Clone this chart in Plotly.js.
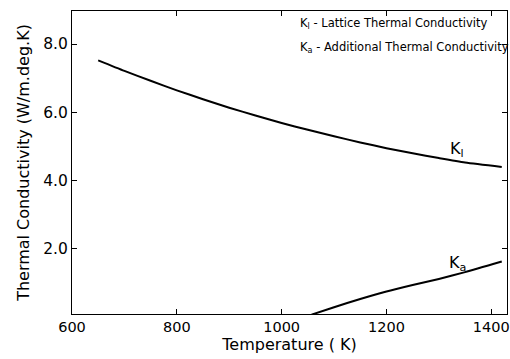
<!DOCTYPE html>
<html>
<head>
<meta charset="utf-8">
<script src="https://cdn.plot.ly/plotly-3.0.1.min.js"></script>
<style>html,body{margin:0;padding:0;background:#fff;}#chart{width:510px;height:359px;}</style>
</head>
<body>
<div id="chart"></div>
<script>
// Lattice thermal conductivity K_l
const klTemp = [650, 700, 750, 800, 850, 900, 950, 1000, 1050, 1100, 1150, 1200, 1250, 1300, 1350, 1420];
const klValue = [7.52, 7.21, 6.92, 6.64, 6.38, 6.13, 5.90, 5.68, 5.48, 5.29, 5.11, 4.94, 4.79, 4.65, 4.52, 4.39];
// Additional thermal conductivity K_a
const kaTemp = [1057, 1100, 1150, 1200, 1250, 1300, 1350, 1420];
const kaValue = [0.05, 0.27, 0.51, 0.73, 0.92, 1.10, 1.30, 1.61];
// Tick labels
const xTicks = [600, 800, 1000, 1200, 1400];
const xTickText = ['600', '800', '1000', '1200', '1400'];
const yTicks = [2, 4, 6, 8];
const yTickText = ['2.0', '4.0', '6.0', '8.0'];

const font = 'DejaVu Sans, sans-serif';
const traces = [
  {x: klTemp, y: klValue, mode: 'lines', line: {color: '#000', width: 2, shape: 'spline', smoothing: 0.6}, hoverinfo: 'skip'},
  {x: kaTemp, y: kaValue, mode: 'lines', line: {color: '#000', width: 2, shape: 'spline', smoothing: 0.6}, hoverinfo: 'skip'}
];
const layout = {
  width: 510, height: 359,
  margin: {l: 72, r: 3, t: 11, b: 45},
  paper_bgcolor: '#fff', plot_bgcolor: '#fff',
  showlegend: false,
  font: {family: font, color: '#000', size: 16},
  xaxis: {
    range: [600, 1430], showgrid: false, zeroline: false,
    showline: true, linecolor: '#000', linewidth: 1, mirror: 'ticks',
    ticks: 'inside', ticklen: 5, tickcolor: '#000',
    tickvals: xTicks, ticktext: xTickText, ticklabeloverflow: 'allow',
    tickfont: {family: font, size: 14.5},
    title: {text: 'Temperature ( K)', font: {family: font, size: 16}, standoff: 3}
  },
  yaxis: {
    range: [0.07, 8.97], showgrid: false, zeroline: false,
    showline: true, linecolor: '#000', linewidth: 1, mirror: 'ticks',
    ticks: 'inside', ticklen: 5, tickcolor: '#000',
    tickvals: yTicks, ticktext: yTickText,
    tickfont: {family: font, size: 15.5},
    title: {text: 'Thermal Conductivity (W/m.deg.K)', font: {family: font, size: 16}, standoff: 9}
  },
  annotations: [
    {xref: 'paper', yref: 'paper', x: 0.52, y: 0.96, xanchor: 'left', yanchor: 'middle', showarrow: false,
     text: 'K<sub>l</sub> - Lattice Thermal Conductivity', font: {family: font, size: 11.5}},
    {xref: 'paper', yref: 'paper', x: 0.52, y: 0.88, xanchor: 'left', yanchor: 'middle', showarrow: false,
     text: 'K<sub>a</sub> - Additional Thermal Conductivity', font: {family: font, size: 11.5}},
    {x: 1335, y: 4.9, xanchor: 'center', yanchor: 'middle', showarrow: false,
     text: 'K<sub>l</sub>', font: {family: font, size: 16}},
    {x: 1335, y: 1.55, xanchor: 'center', yanchor: 'middle', showarrow: false,
     text: 'K<sub>a</sub>', font: {family: font, size: 16}}
  ]
};
Plotly.newPlot('chart', traces, layout, {displayModeBar: false, staticPlot: true});
</script>
</body>
</html>
